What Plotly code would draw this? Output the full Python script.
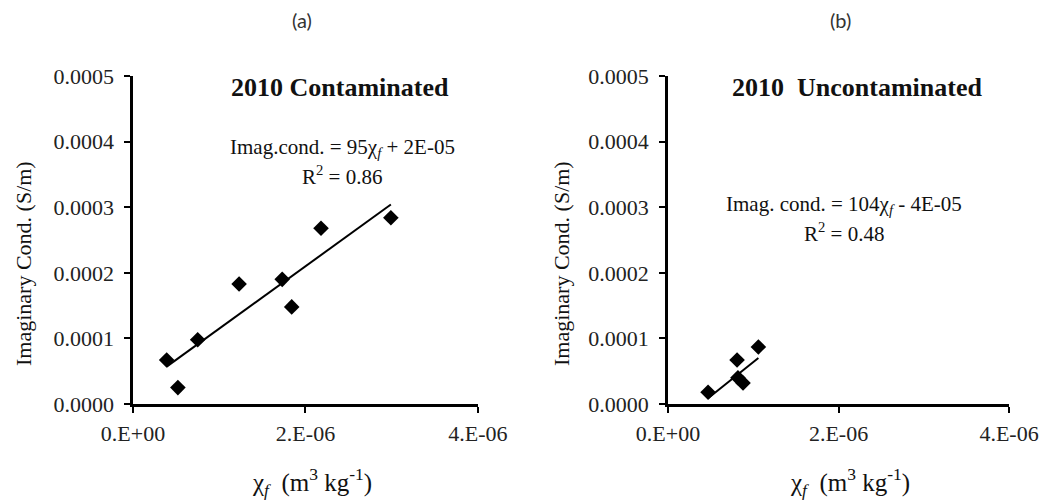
import plotly.graph_objects as go
from plotly.subplots import make_subplots

# Panel (a): 2010 contaminated samples
chi_a = [0.39e-6, 0.52e-6, 0.75e-6, 1.23e-6, 1.73e-6, 1.84e-6, 2.18e-6, 2.99e-6]
cond_a = [0.000067, 0.000025, 0.000098, 0.000183, 0.000190, 0.000148, 0.000268, 0.000284]

# Panel (b): 2010 uncontaminated samples
chi_b = [0.47e-6, 0.81e-6, 0.82e-6, 0.88e-6, 1.06e-6]
cond_b = [0.000018, 0.000067, 0.000040, 0.000032, 0.000087]

# Linear trend lines (slope, intercept) as reported
slope_a, icpt_a, r2_a = 95, 2e-05, 0.86
slope_b, icpt_b, r2_b = 104, -4e-05, 0.48

x_ticks = [0, 2e-6, 4e-6]
x_tick_text = ["0.E+00", "2.E-06", "4.E-06"]
y_ticks = [0, 0.0001, 0.0002, 0.0003, 0.0004, 0.0005]

SERIF = "Liberation Serif, Times New Roman, serif"

fig = make_subplots(rows=1, cols=2)


def add_panel(col, xs, ys, slope, icpt):
    fig.add_trace(go.Scatter(
        x=xs, y=ys, mode="markers",
        marker=dict(symbol="diamond", size=12, color="black"),
        showlegend=False), row=1, col=col)
    x0, x1 = min(xs), max(xs)
    fig.add_trace(go.Scatter(
        x=[x0, x1], y=[slope * x0 + icpt, slope * x1 + icpt], mode="lines",
        line=dict(color="black", width=2), showlegend=False), row=1, col=col)


add_panel(1, chi_a, cond_a, slope_a, icpt_a)
add_panel(2, chi_b, cond_b, slope_b, icpt_b)

axis_common = dict(
    showline=True, linecolor="black", linewidth=2.5, showgrid=False, zeroline=False,
    ticks="outside", ticklen=6, tickwidth=2, tickcolor="black", automargin=False,
    tickfont=dict(family=SERIF, size=22, color="#222"),
)
fig.update_xaxes(range=[0, 4e-6], tickvals=x_ticks, ticktext=x_tick_text,
                 ticklabelstandoff=2, **axis_common)
fig.update_yaxes(range=[0, 0.0005], tickvals=y_ticks, tickformat=".4f",
                 ticklabelstandoff=6, **axis_common)

fig.update_layout(
    xaxis=dict(domain=[0.1267, 0.4552], anchor="y"),
    yaxis=dict(domain=[0.1936, 0.8483], anchor="x"),
    xaxis2=dict(domain=[0.6362, 0.961], anchor="y2"),
    yaxis2=dict(domain=[0.1936, 0.8483], anchor="x2"),
    width=1050, height=501,
    margin=dict(l=0, r=0, t=0, b=0),
    plot_bgcolor="white", paper_bgcolor="white",
    font=dict(family=SERIF, color="#111"),
)

ann = []


def txt(x, y, text, size, family=SERIF, angle=0, color="#111"):
    ann.append(dict(x=x / 1050, y=1 - y / 501, xref="paper", yref="paper",
                    text=text, showarrow=False, textangle=angle,
                    font=dict(family=family, size=size, color=color),
                    xanchor="center", yanchor="middle"))


CHI_F = "χ<sub><i>f</i></sub>"


def eq_text(slope, icpt, sep):
    sign = "+" if icpt >= 0 else "-"
    mant, expo = f"{abs(icpt):.0E}".split("E")
    return f"Imag.{sep}cond. = {slope}{CHI_F} {sign} {mant}E{expo}"


txt(302, 20, "(a)", 20, family="Lato, sans-serif", color="#333")
txt(840, 20, "(b)", 20, family="Lato, sans-serif", color="#333")
txt(340, 88, "<b>2010 Contaminated</b>", 26)
txt(857, 88, "<b>2010  Uncontaminated</b>", 26)
txt(342, 148, eq_text(slope_a, icpt_a, ""), 21)
txt(342, 175, f"R<sup>2</sup> = {r2_a:.2f}", 21)
txt(844, 205, eq_text(slope_b, icpt_b, " "), 21)
txt(844, 232, f"R<sup>2</sup> = {r2_b:.2f}", 21)
xtitle = f"{CHI_F}  (m<sup>3</sup> kg<sup>-1</sup>)"
txt(312, 482, xtitle, 25)
txt(850, 482, xtitle, 25)
ytitle = "Imaginary Cond. (S/m)"
txt(23, 264, ytitle, 22, angle=-90)
txt(561, 264, ytitle, 22, angle=-90)

fig.update_layout(annotations=ann)
fig.write_html("out.html")
